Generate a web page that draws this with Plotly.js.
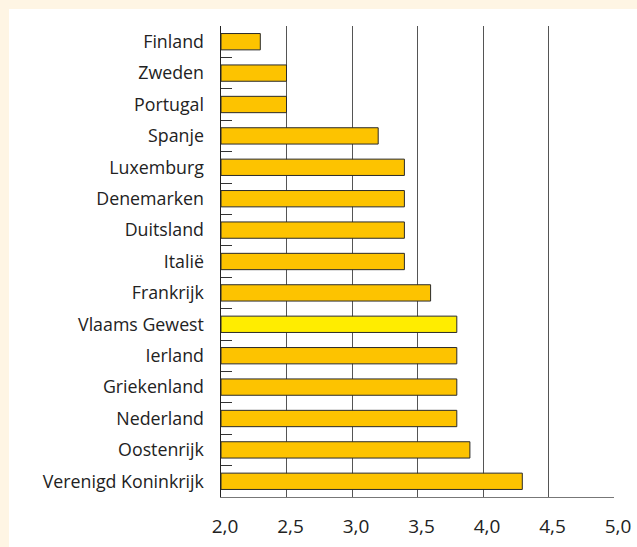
<!DOCTYPE html>
<html>
<head>
<meta charset="utf-8">
<script src="https://cdn.plot.ly/plotly-3.0.1.min.js"></script>
<style>
html,body{margin:0;padding:0;background:#fef5e4;width:637px;height:547px;overflow:hidden;}
#chart{position:absolute;left:9px;top:9px;width:628px;height:538px;background:#fff;}
</style>
</head>
<body>
<div id="chart"></div>
<script>
const countries = ["Finland","Zweden","Portugal","Spanje","Luxemburg","Denemarken","Duitsland","Italië","Frankrijk","Vlaams Gewest","Ierland","Griekenland","Nederland","Oostenrijk","Verenigd Koninkrijk"];
const values = [2.3,2.5,2.5,3.2,3.4,3.4,3.4,3.4,3.6,3.8,3.8,3.8,3.8,3.9,4.3];
const highlight = "Vlaams Gewest";
const tickValues = [2.0,2.5,3.0,3.5,4.0,4.5,5.0];
const tickLabels = ["2,0","2,5","3,0","3,5","4,0","4,5","5,0"];

const colors = countries.map(c => c === highlight ? "#ffed00" : "#fdc300");

const trace = {
  type: "bar",
  orientation: "h",
  y: countries,
  x: values.map(v => v - 2.0),
  base: 2.0,
  width: 0.52,
  marker: {color: colors, line: {color: "#2a2a2a", width: 1}},
  hoverinfo: "none"
};

const layout = {
  width: 628, height: 538,
  margin: {l: 212, r: 23, t: 17, b: 50},
  paper_bgcolor: "#ffffff",
  plot_bgcolor: "#ffffff",
  showlegend: false,
  font: {family: "Open Sans, sans-serif", size: 18, color: "#222"},
  xaxis: {
    range: [2.0, 5.0],
    tickvals: tickValues,
    ticktext: tickLabels,
    showgrid: true, gridcolor: "#555", gridwidth: 1,
    showline: true, linecolor: "#777", linewidth: 1,
    zeroline: false,
    ticks: "", ticklabelstandoff: 12, ticklabelshift: 4,
    tickfont: {size: 19, color: "#222"}
  },
  yaxis: {
    type: "category",
    autorange: "reversed",
    range: [-0.5, 14.5],
    showgrid: false,
    showline: true, linecolor: "#222", linewidth: 1.5,
    ticks: "inside", ticklen: 11, tickcolor: "#333", tickwidth: 1,
    tickson: "boundaries",
    ticklabelstandoff: 12,
    tickfont: {size: 17.8, color: "#222"}
  }
};

Plotly.newPlot("chart", [trace], layout, {displayModeBar: false, staticPlot: true});
</script>
</body>
</html>
